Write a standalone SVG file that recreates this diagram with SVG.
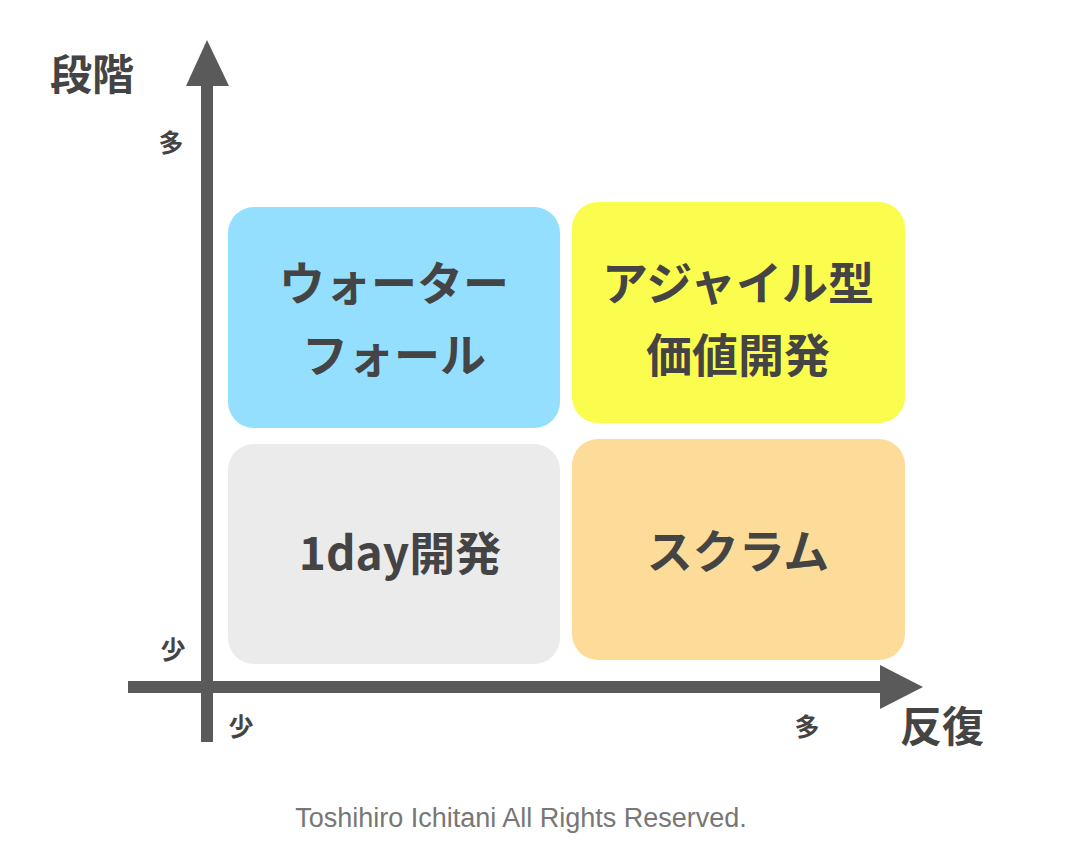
<svg xmlns="http://www.w3.org/2000/svg" width="1068" height="842" viewBox="0 0 1068 842">
<style>
.t{font-family:"Noto Sans CJK JP","Noto Sans",sans-serif;font-weight:bold;fill:#444;text-anchor:middle}
.b{font-size:46px}
.s{font-size:25px}
.a{font-size:42px}
</style>
<rect width="1068" height="842" fill="#fff"/>
<g id="axes" fill="#5a5a5a">
<rect x="201" y="80" width="12" height="662"/>
<polygon points="207,40 186,86 229,86"/>
<rect x="128" y="681" width="755" height="12"/>
<polygon points="923,687 880,665 880,709"/>
</g>
<g id="waterfall"><rect x="228" y="207" width="332" height="221" rx="26" fill="#94DFFE"/>
<text class="t b" x="394" y="300">ウォーター</text><text class="t b" x="394" y="372">フォール</text></g>
<g id="agile"><rect x="572" y="202" width="333" height="221" rx="26" fill="#FBFD4E"/>
<text class="t b" x="738" y="300">アジャイル型</text><text class="t b" x="738" y="372">価値開発</text></g>
<g id="oneday"><rect x="228" y="444" width="332" height="220" rx="26" fill="#EBEBEB"/>
<text class="t b" x="400" y="570">1day開発</text></g>
<g id="scrum"><rect x="572" y="439" width="333" height="221" rx="26" fill="#FDDC9A"/>
<text class="t b" x="738" y="568">スクラム</text></g>
<text class="t a" x="92" y="90">段階</text>
<text class="t a" x="942" y="742">反復</text>
<text class="t s" x="171" y="152">多</text>
<text class="t s" x="173" y="659">少</text>
<text class="t s" x="241" y="736">少</text>
<text class="t s" x="807" y="736">多</text>
<text x="521" y="827" font-family="Liberation Sans,Arial,sans-serif" font-size="27" fill="#777" text-anchor="middle">Toshihiro Ichitani All Rights Reserved.</text>
</svg>
